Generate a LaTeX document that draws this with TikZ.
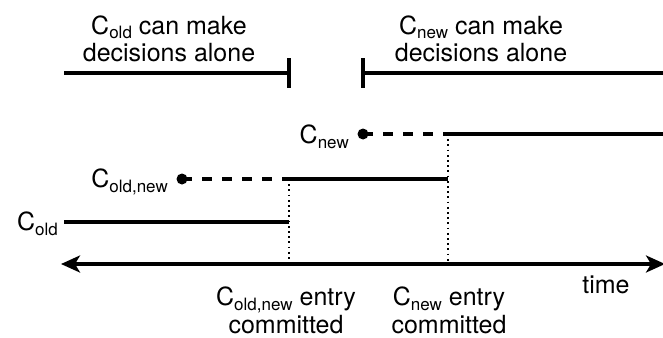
\documentclass[tikz,border=0pt]{standalone}
\usepackage{fontspec}
\setmainfont{TeX Gyre Heros}
\usetikzlibrary{arrows.meta}
\newcommand\lowsub[1]{\raisebox{-5pt}{\fontsize{17}{17}\selectfont #1}}
\begin{document}
\begin{tikzpicture}[x=1pt,y=-1pt,
  lbl/.style={font=\fontsize{25}{28}\selectfont, inner sep=0pt, align=center},
  solidline/.style={line width=3.2pt},
  dashline/.style={line width=3.2pt, dash pattern=on 10pt off 10pt},
  dotline/.style={line width=1.8pt, dash pattern=on 1.8pt off 3.4pt},
  tick/.style={line width=3.2pt},
  dot/.style={circle, fill, inner sep=0pt, minimum size=11pt}]
\useasboundingbox (0,0) rectangle (663,337);
% top bars
\coordinate (tl1) at (64,73);
\coordinate (tl2) at (289,73);
\coordinate (tl2a) at (289,58);
\coordinate (tl2b) at (289,88);
\coordinate (tr1) at (363,73);
\coordinate (tr1a) at (363,58);
\coordinate (tr1b) at (363,88);
\coordinate (tr2) at (663,73);
\draw[solidline] (tl1) -- (tl2);
\draw[tick] (tl2a) -- (tl2b);
\draw[solidline] (tr1) -- (tr2);
\draw[tick] (tr1a) -- (tr1b);
\node[lbl, anchor=base] (topL) at (169,62) {C\lowsub{old} can make\\decisions alone};
\node[lbl, anchor=base] (topR) at (481,62) {C\lowsub{new} can make\\decisions alone};
% C_new row
\node[dot] (dnew) at (363,134) {};
\coordinate (jnew) at (448,134);
\coordinate (enew) at (663,134);
\draw[dashline] (dnew.center) -- (jnew);
\draw[solidline] (jnew) -- (enew);
\node[lbl, anchor=base east] (lnew) at (349,143) {C\lowsub{new}};
% C_old,new row
\node[dot] (dboth) at (182,179) {};
\coordinate (jboth) at (289,179);
\coordinate (eboth) at (448,179);
\draw[dashline] (dboth.center) -- (jboth);
\draw[solidline] (jboth) -- (eboth);
\node[lbl, anchor=base east] (lboth) at (168,187) {C\lowsub{old,new}};
% C_old row
\coordinate (sold) at (64,222);
\coordinate (eold) at (289,222);
\draw[solidline] (sold) -- (eold);
\node[lbl, anchor=base east] (lold) at (58,230) {C\lowsub{old}};
% axis
\coordinate (axL) at (61,264);
\coordinate (axR) at (665,264);
\coordinate (v1) at (289,264);
\coordinate (v2) at (448,264);
\draw[dotline] (jboth) -- (v1);
\draw[dotline] (jnew) -- (v2);
\draw[line width=3.2pt, {Stealth[length=19pt,width=17pt,inset=5pt]}-{Stealth[length=19pt,width=17pt,inset=5pt]}] (axL) -- (axR);
\node[lbl, anchor=base] (time) at (606,293) {time};
\node[lbl, anchor=base] (b1) at (286,333) {C\lowsub{old,new} entry\\committed};
\node[lbl, anchor=base] (b2) at (449,333) {C\lowsub{new} entry\\committed};
\end{tikzpicture}
\end{document}
